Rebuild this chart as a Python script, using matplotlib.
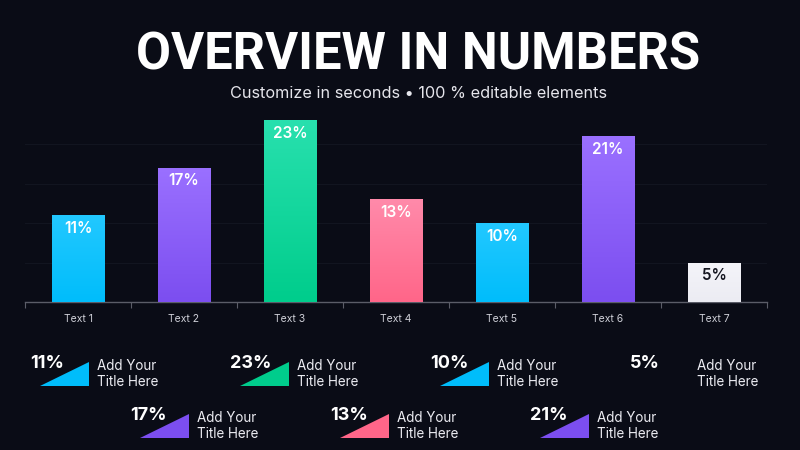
import numpy as np
import matplotlib
matplotlib.use("Agg")
import matplotlib.pyplot as plt
from matplotlib.patches import Polygon
from matplotlib.colors import LinearSegmentedColormap

# 数据
categories = ["Text 1", "Text 2", "Text 3", "Text 4", "Text 5", "Text 6", "Text 7"]
values = [11, 17, 23, 13, 10, 21, 5]
labels = ["11%", "17%", "23%", "13%", "10%", "21%", "5%"]
item_titles = ["Add Your\nTitle Here"] * 7

# 颜色 (上, 下)
grads = [("#22c8ff", "#00bdfb"), ("#9a70ff", "#7c4ef0"), ("#28e0ae", "#00cd8c"),
         ("#ff8aaa", "#ff6689"), ("#22c8ff", "#00bdfb"), ("#9a70ff", "#7c4ef0"),
         ("#f4f4f9", "#ececf3")]
bg = "#0a0c16"

plt.rcParams["font.family"] = ["Inter", "DejaVu Sans"]

fig = plt.figure(figsize=(8, 4.5), dpi=100, facecolor=bg)
ax = fig.add_axes([25 / 800, 1 - 302 / 450, 742 / 800, 197.5 / 450])
ax.set_facecolor(bg)

x = np.arange(len(categories))
bars = ax.bar(x, values, width=0.5, color=[g[1] for g in grads], zorder=2)

# 渐变填充
for b, (top, bot) in zip(bars, grads):
    cmap = LinearSegmentedColormap.from_list("g", [bot, top])
    grad = np.linspace(0, 1, 100).reshape(-1, 1)
    bx, bw, bh = b.get_x(), b.get_width(), b.get_height()
    im = ax.imshow(grad, cmap=cmap, origin="lower", aspect="auto",
                   extent=(bx, bx + bw, 0, bh), zorder=3)
    im.set_clip_path(b)

for i, (v, lab) in enumerate(zip(values, labels)):
    col = "#14151f" if i == 6 else "white"
    ax.annotate(lab, (x[i], v), xytext=(0, -4), textcoords="offset points",
                ha="center", va="top", color=col, fontsize=11, fontweight="semibold", zorder=4)

ax.set_xlim(-0.5, 6.5)
ax.set_ylim(0, 25)
for yv in [5, 10, 15, 20]:
    ax.axhline(yv, color="#121520", lw=0.8, zorder=1)

for s in ["top", "right", "left"]:
    ax.spines[s].set_visible(False)
ax.spines["bottom"].set_color("#5b5d68")
ax.spines["bottom"].set_linewidth(1)
ax.set_yticks([])
ax.set_xticks(np.arange(-0.5, 7, 1))
ax.set_xticklabels([])
ax.tick_params(axis="x", which="major", direction="out", length=4, color="#5b5d68")
ax.set_xticks(x, minor=True)
ax.set_xticklabels(categories, minor=True)
ax.tick_params(axis="x", which="minor", length=0, pad=9, labelsize=7.5, labelcolor="#cfd0d8")

# 标题
fig.text(418 / 800, 1 - 55 / 450, "OVERVIEW IN NUMBERS", ha="center", va="center",
         color="white", fontsize=36.5, fontweight="bold", family=["Roboto", "DejaVu Sans"])
fig.text(418 / 800, 1 - 93 / 450, "Customize in seconds \u2022 100 % editable elements",
         ha="center", va="center", color="#e6e6ec", fontsize=11.7)

# 底部图例
for i, (lab, t) in enumerate(zip(labels, item_titles)):
    x0 = 30 + 100 * i
    y0 = 363 if i % 2 == 0 else 415
    fig.text(x0 / 800, 1 - y0 / 450, lab, ha="left", va="center", color="white",
             fontsize=13, fontweight="bold")
    if i != 6:
        tri = [((x0 + 10) / 800, 1 - (y0 + 23) / 450),
               ((x0 + 59) / 800, 1 - (y0 + 23) / 450),
               ((x0 + 59) / 800, 1 - (y0 - 1) / 450)]
        fig.patches.append(Polygon(tri, closed=True, transform=fig.transFigure,
                                   facecolor=grads[i][1], edgecolor="none"))
    fig.text((x0 + 67) / 800, 1 - (y0 + 11) / 450, t, ha="left", va="center",
             color="#ececf2", fontsize=9.7, linespacing=1.25)

fig.savefig("out.png", dpi=100, facecolor=bg)
